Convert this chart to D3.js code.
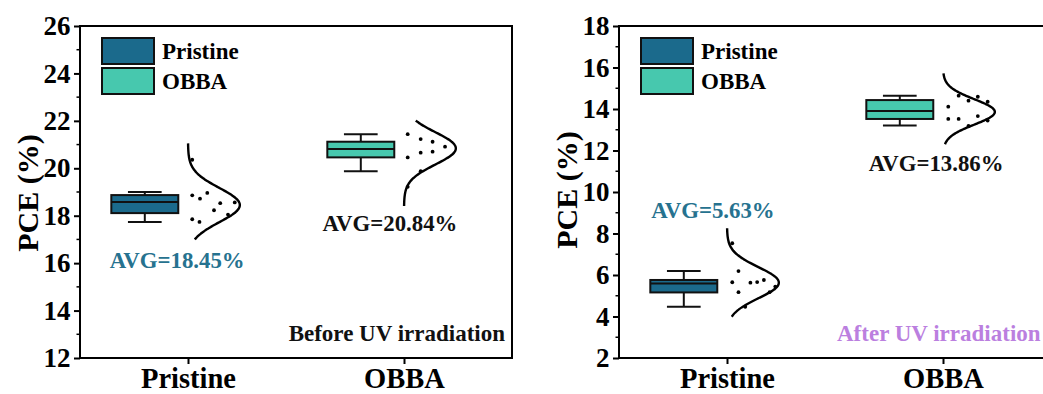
<!DOCTYPE html>
<html>
<head>
<meta charset="utf-8">
<script src="https://cdn.jsdelivr.net/npm/d3@7/dist/d3.min.js"></script>
<style>
  html, body { margin: 0; padding: 0; background: #fff; }
  svg { display: block; }
  text { font-family: "Liberation Serif", "Times New Roman", serif; font-weight: bold; }
</style>
</head>
<body>
<svg id="chart" width="1043" height="394"></svg>
<script>
// Categories and panel settings
const categories = ["Pristine", "OBBA"];
const panelNotes = ["Before UV irradiation", "After UV irradiation"];
const yDomains = [[12, 26], [2, 18]];
const yTickValues = [[12, 14, 16, 18, 20, 22, 24, 26], [2, 4, 6, 8, 10, 12, 14, 16, 18]];

// Box statistics: [Pristine, OBBA]
const beforeWhiskerLow  = [17.73, 19.88];
const beforeQ1          = [18.11, 20.46];
const beforeMedian      = [18.58, 20.81];
const beforeQ3          = [18.87, 21.12];
const beforeWhiskerHigh = [19.00, 21.44];
const beforeAvg         = [18.45, 20.84];
const beforeFitSd       = [0.72, 0.68];
const beforeFitLow      = [17.00, 18.41];
const beforeFitHigh     = [21.05, 22.01];

const afterWhiskerLow  = [4.47, 13.20];
const afterQ1          = [5.16, 13.52];
const afterMedian      = [5.59, 13.90];
const afterQ3          = [5.76, 14.43];
const afterWhiskerHigh = [6.19, 14.64];
const afterAvg         = [5.63, 13.86];
const afterFitSd       = [0.75, 0.61];
const afterFitLow      = [3.99, 12.30];
const afterFitHigh     = [8.25, 15.72];

// Individual device PCE values and their jitter (fraction of curve width)
const beforePristinePce    = [18.86, 18.72, 18.96, 18.53, 18.56, 18.23, 18.05, 17.85, 17.74, 20.36];
const beforePristineJitter = [0.04, 0.19, 0.33, 0.58, 0.86, 0.46, 0.73, 0.04, 0.18, 0.04];
const beforeObbaPce        = [21.44, 21.23, 21.12, 20.91, 20.46, 20.66, 20.70, 19.88, 19.22];
const beforeObbaJitter     = [0.03, 0.28, 0.51, 0.75, 0.03, 0.28, 0.51, 0.28, 0.03];
const afterPristinePce     = [6.19, 5.65, 5.17, 5.63, 5.66, 5.76, 5.44, 5.17, 4.47, 7.53];
const afterPristineJitter  = [0.18, 0.06, 0.18, 0.41, 0.54, 0.67, 0.89, 0.78, 0.31, 0.06];
const afterObbaPce         = [14.64, 14.40, 14.59, 14.35, 14.11, 13.52, 13.52, 13.66, 13.44, 13.18];
const afterObbaJitter      = [0.26, 0.45, 0.63, 0.82, 0.06, 0.06, 0.26, 0.63, 0.82, 0.45];

const fills = ["#1b6a8c", "#47c8ae"];
const avgColors = ["#26728f", "#111111"];
const noteColors = ["#111111", "#bb7fdf"];

const panels = [
  {
    left: 80,
    stats: categories.map((c, i) => ({
      lo: beforeWhiskerLow[i], q1: beforeQ1[i], med: beforeMedian[i], q3: beforeQ3[i], hi: beforeWhiskerHigh[i],
      avg: beforeAvg[i], sd: beforeFitSd[i], fitLo: beforeFitLow[i], fitHi: beforeFitHigh[i]
    })),
    points: [
      beforePristinePce.map((v, k) => ({ v, j: beforePristineJitter[k] })),
      beforeObbaPce.map((v, k) => ({ v, j: beforeObbaJitter[k] }))
    ],
    avgLabelAt: [[-0.05, 15.8], [-0.065, 17.35]]
  },
  {
    left: 619,
    stats: categories.map((c, i) => ({
      lo: afterWhiskerLow[i], q1: afterQ1[i], med: afterMedian[i], q3: afterQ3[i], hi: afterWhiskerHigh[i],
      avg: afterAvg[i], sd: afterFitSd[i], fitLo: afterFitLow[i], fitHi: afterFitHigh[i]
    })),
    points: [
      afterPristinePce.map((v, k) => ({ v, j: afterPristineJitter[k] })),
      afterObbaPce.map((v, k) => ({ v, j: afterObbaJitter[k] }))
    ],
    avgLabelAt: [[-0.065, 8.75], [-0.032, 11.0]]
  }
];

const svg = d3.select("#chart");
const plotTop = 26, plotBottom = 358, plotW = 432;
const boxOffset = -0.2, boxHalf = 0.155, capHalf = 0.078, curveWidth = 0.24;

panels.forEach((p, pi) => {
  const g = svg.append("g").attr("transform", `translate(${p.left},0)`);
  const x = d3.scaleLinear().domain([0.5, 2.5]).range([0, plotW]);
  const y = d3.scaleLinear().domain(yDomains[pi]).range([plotBottom, plotTop]);

  // y axis with major and minor ticks
  const yAxis = d3.axisLeft(y).tickValues(yTickValues[pi]).tickSize(6).tickPadding(3.5).tickFormat(d3.format("d"));
  const ya = g.append("g").call(yAxis);
  ya.select(".domain").remove();
  ya.selectAll("line").attr("stroke", "#000").attr("stroke-width", 2);
  ya.selectAll("text").attr("font-size", 27).attr("fill", "#000")
    .attr("font-family", "Liberation Serif, serif").attr("font-weight", "bold");
  const [d0, d1] = yDomains[pi];
  const minor = d3.range(d0 + 1, d1, 2);
  g.append("g").selectAll("line").data(minor).join("line")
    .attr("x1", -3.5).attr("x2", 0).attr("y1", d => y(d)).attr("y2", d => y(d))
    .attr("stroke", "#000").attr("stroke-width", 1.5);

  // x axis ticks at categories
  const xAxis = d3.axisBottom(x).tickValues([1, 2]).tickSize(6).tickPadding(24)
    .tickFormat((d) => categories[d - 1]);
  const xa = g.append("g").attr("transform", `translate(0,${plotBottom})`).call(xAxis);
  xa.select(".domain").remove();
  xa.selectAll("line").attr("stroke", "#000").attr("stroke-width", 2);
  xa.selectAll("text").attr("font-size", 28.5).attr("fill", "#000")
    .attr("font-family", "Liberation Serif, serif").attr("font-weight", "bold")
    .attr("dy", "0");

  // frame
  g.append("rect").attr("x", 0).attr("y", plotTop).attr("width", plotW).attr("height", plotBottom - plotTop)
    .attr("fill", "none").attr("stroke", "#000").attr("stroke-width", 2);

  // y title
  g.append("text")
    .attr("transform", `translate(${-42},${(plotTop + plotBottom) / 2 + (pi ? -2 : 1)}) rotate(-90)`)
    .attr("text-anchor", "middle").attr("font-size", 30).attr("fill", "#000")
    .text("PCE (%)");

  p.stats.forEach((s, i) => {
    const cx = i + 1;
    const bx = cx + boxOffset;
    const col = fills[i];
    // whiskers
    g.append("line").attr("x1", x(bx)).attr("x2", x(bx)).attr("y1", y(s.lo)).attr("y2", y(s.hi))
      .attr("stroke", "#111").attr("stroke-width", 2);
    [s.lo, s.hi].forEach(v => {
      g.append("line").attr("x1", x(bx - capHalf)).attr("x2", x(bx + capHalf))
        .attr("y1", y(v)).attr("y2", y(v)).attr("stroke", "#111").attr("stroke-width", 2);
    });
    // box
    g.append("rect").attr("x", x(bx - boxHalf)).attr("y", y(s.q3))
      .attr("width", x(bx + boxHalf) - x(bx - boxHalf)).attr("height", y(s.q1) - y(s.q3))
      .attr("fill", col).attr("stroke", "#111").attr("stroke-width", 2);
    g.append("line").attr("x1", x(bx - boxHalf)).attr("x2", x(bx + boxHalf))
      .attr("y1", y(s.med)).attr("y2", y(s.med)).attr("stroke", "#111").attr("stroke-width", 2);

    // normal distribution fit
    const vals = d3.range(s.fitLo, s.fitHi + 1e-9, (s.fitHi - s.fitLo) / 120);
    const dens = v => Math.exp(-0.5 * Math.pow((v - s.avg) / s.sd, 2));
    const line = d3.line().x(v => x(cx + curveWidth * dens(v))).y(v => y(v)).curve(d3.curveBasis);
    g.append("path").attr("d", line(vals)).attr("fill", "none")
      .attr("stroke", "#000").attr("stroke-width", 2.4);

    // data points
    g.append("g").selectAll("circle").data(p.points[i]).join("circle")
      .attr("cx", d => x(cx + 0.01 + d.j * curveWidth)).attr("cy", d => y(d.v))
      .attr("r", 1.9).attr("fill", "#000");

    // average label
    const [lx, ly] = p.avgLabelAt[i];
    g.append("text").attr("x", x(cx + lx)).attr("y", y(ly))
      .attr("text-anchor", "middle").attr("font-size", 22.8).attr("fill", avgColors[i])
      .text(`AVG=${s.avg.toFixed(2)}%`);
  });

  // legend
  const lg = g.append("g").attr("transform", "translate(22,38)");
  categories.forEach((c, i) => {
    lg.append("rect").attr("x", 0).attr("y", i * 30).attr("width", 52).attr("height", 26)
      .attr("fill", fills[i]).attr("stroke", "#111").attr("stroke-width", 2);
    lg.append("text").attr("x", 60).attr("y", i * 30 + 13).attr("dy", "0.35em")
      .attr("font-size", 23).attr("fill", "#000").text(c);
  });

  // condition note
  g.append("text").attr("x", pi === 0 ? plotW - 7 : 218).attr("y", 341)
    .attr("text-anchor", pi === 0 ? "end" : "start")
    .attr("font-size", 23).attr("fill", noteColors[pi]).text(panelNotes[pi]);
});
</script>
</body>
</html>
